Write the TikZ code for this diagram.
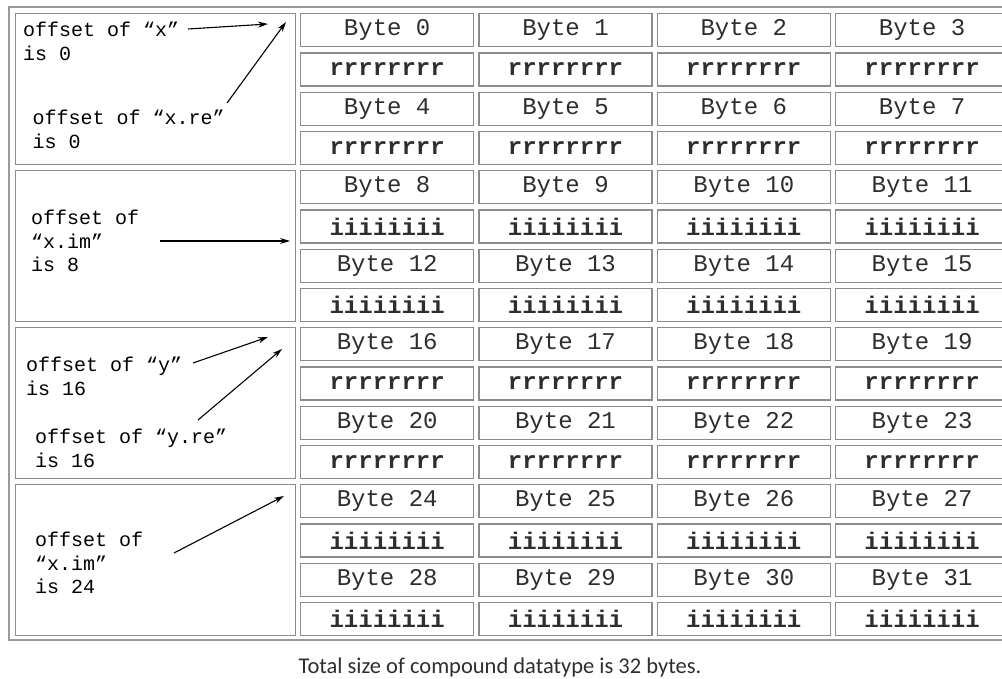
\documentclass[tikz,border=0pt]{standalone}
\usepackage{fontspec}
\usepackage{tikz}
\usetikzlibrary{arrows.meta}
\newfontfamily\courier{Liberation Mono}
\newfontfamily\calibri{Carlito}
\definecolor{cellgray}{HTML}{8C8C8C}
\definecolor{framegray}{HTML}{9A9A9A}
\definecolor{ink}{HTML}{2E2E2E}
\tikzset{cell/.style={draw=cellgray,line width=1.4pt,minimum width=173pt,minimum height=33pt,inner sep=0pt,anchor=north west,text=ink,font=\courier\fontsize{24}{24}\selectfont},
grp/.style={draw=cellgray,line width=1.4pt,minimum width=280pt,minimum height=151pt,inner sep=0pt,anchor=north west},
lbl/.style={align=left,anchor=north west,inner sep=0pt,text=black,font=\courier\fontsize{20}{23.5}\selectfont},
ptr/.style={-{Stealth[length=10pt,width=6pt]},line width=1.1pt,black}}

\begin{document}
\begin{tikzpicture}[x=1pt,y=-1pt]
\useasboundingbox (0,0) rectangle (1002,679);
\draw[framegray,line width=1.5pt] (9,7) rectangle (1012,640);
% left column
\node[grp] (g0) at (14.5,13) {};
\node[grp] (g1) at (14.5,170) {};
\node[grp] (g2) at (14.5,327) {};
\node[grp] (g3) at (14.5,484) {};
% byte cells
\foreach \g in {0,...,3}{
  \foreach \r in {0,1}{
    \foreach \c in {0,...,3}{
      \pgfmathtruncatemacro\n{8*\g+4*\r+\c}
      \pgfmathsetmacro\yb{13+157*\g+78.6*\r}
      \node[cell] (b\n) at (300+178.3*\c,\yb) {Byte \n};
      \ifodd\g
        \node[cell,font=\courier\bfseries\fontsize{24}{24}\selectfont] (v\n) at (300+178.3*\c,\yb+39.3) {iiiiiiii};
      \else
        \node[cell,font=\courier\bfseries\fontsize{24}{24}\selectfont] (v\n) at (300+178.3*\c,\yb+39.3) {rrrrrrrr};
      \fi
    }}}
% offset labels
\node[lbl] (lx) at (23,22) {offset of “x”\\is 0};
\node[lbl] (lxre) at (32.5,110) {offset of “x.re”\\is 0};
\node[lbl] (lxim) at (31,210) {offset of\\“x.im”\\is 8};
\node[lbl] (ly) at (26,357) {offset of “y”\\is 16};
\node[lbl] (lyre) at (35,429) {offset of “y.re”\\is 16};
\node[lbl] (lyim) at (35,532) {offset of\\“x.im”\\is 24};
% arrow ends
\coordinate (xs) at (188,29); \coordinate (xt) at (268,24);
\coordinate (xres) at (227,103); \coordinate (xret) at (286,22);
\coordinate (xims) at (160,241); \coordinate (ximt) at (290,241);
\coordinate (ys) at (193,363); \coordinate (yt) at (268,337);
\coordinate (yres) at (198,420); \coordinate (yret) at (282,349);
\coordinate (yims) at (174,553); \coordinate (yimt) at (284,496);
\draw[ptr] (xs) -- (xt);
\draw[ptr] (xres) -- (xret);
\draw[ptr] (xims) -- (ximt);
\draw[ptr] (ys) -- (yt);
\draw[ptr] (yres) -- (yret);
\draw[ptr] (yims) -- (yimt);
\node[font=\calibri\fontsize{22.5}{22.5}\selectfont,text=ink,anchor=base] (cap) at (500,673) {Total size of compound datatype is 32 bytes.};
\end{tikzpicture}
\end{document}
